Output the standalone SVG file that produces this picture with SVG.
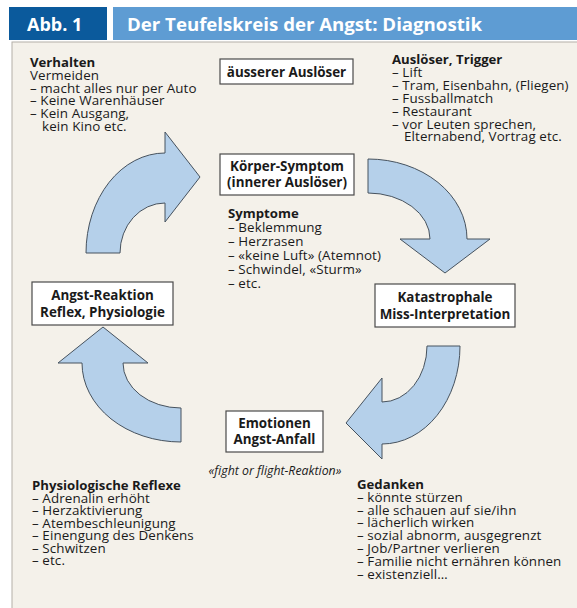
<svg xmlns="http://www.w3.org/2000/svg" width="577" height="608" viewBox="0 0 577 608">
<style>
text{font-family:"Open Sans","Liberation Sans",sans-serif;fill:#1a1a1a;font-size:13.4px;letter-spacing:0.1px}
.b{font-weight:bold;font-size:13.2px;letter-spacing:0}
.c{text-anchor:middle}
.bx{font-weight:bold;font-size:13.4px;letter-spacing:0;text-anchor:middle}
.box{fill:#ffffff;stroke:#4a4a4a;stroke-width:1.2}
.arr{fill:#b5d0ea;stroke:#46525e;stroke-width:1}
.hd{fill:#ffffff;font-weight:bold;font-size:18px;letter-spacing:0}
</style>
<rect x="0" y="0" width="577" height="608" fill="#ffffff"/>
<rect x="12" y="42" width="570" height="570" fill="#f4f1ea" stroke="#b3afa8" stroke-width="1"/>
<g id="header">
<rect x="9" y="7" width="98" height="33" fill="#0b5a9c"/>
<rect x="113" y="7" width="470" height="33" fill="#5e9cd3"/>
<text class="hd" x="27" y="31">Abb. 1</text>
<text class="hd" x="127" y="31" textLength="355" lengthAdjust="spacingAndGlyphs">Der Teufelskreis der Angst: Diagnostik</text>
</g>
<g id="connectors">
<path class="arr" d="M86,253 A79,100 0 0 1 165,153 L165,132 L200,177 L165,222 L165,203 A45,50 0 0 0 120,253 Z"/>
<path class="arr" d="M368,159 A99,80 0 0 1 467,239 L490,239 L445,273 L400,239 L430,239 A62,46 0 0 0 368,193 Z"/>
<path class="arr" d="M460,346 A78,98 0 0 1 382,444 L382,459 L346,423 L382,378 L382,402 A45,56 0 0 0 427,346 Z"/>
<path class="arr" d="M181,442 A99,79 0 0 1 82,363 L58,363 L103,327 L148,363 L123,363 A58,45 0 0 0 181,408 Z"/>
</g>
<g id="node-aeusserer">
<rect class="box" x="220" y="59" width="133" height="25"/>
<text class="bx" x="286.5" y="76.5">äusserer Auslöser</text>
</g>
<g id="node-koerper">
<rect class="box" x="220" y="154" width="134" height="41"/>
<text class="bx" x="287" y="171">Körper-Symptom</text>
<text class="bx" x="287" y="187">(innerer Auslöser)</text>
</g>
<g id="node-katastrophale">
<rect class="box" x="375" y="284" width="140" height="43"/>
<text class="bx" x="445" y="302">Katastrophale</text>
<text class="bx" x="445" y="319">Miss-Interpretation</text>
</g>
<g id="node-emotionen">
<rect class="box" x="226" y="411" width="97" height="41"/>
<text class="bx" x="274.5" y="428">Emotionen</text>
<text class="bx" x="274.5" y="444">Angst-Anfall</text>
</g>
<g id="node-angstreaktion">
<rect class="box" x="32" y="282" width="141" height="43"/>
<text class="bx" x="102.5" y="300">Angst-Reaktion</text>
<text class="bx" x="102.5" y="317">Reflex, Physiologie</text>
</g>
<g id="text-verhalten">
<text class="b" x="30" y="67">Verhalten</text>
<text x="30" y="80">Vermeiden</text>
<text x="30" y="92.7">– macht alles nur per Auto</text>
<text x="30" y="105.4">– Keine Warenhäuser</text>
<text x="30" y="118">– Kein Ausgang,</text>
<text x="42" y="130.7">kein Kino etc.</text>
</g>
<g id="text-trigger">
<text class="b" x="392" y="64">Auslöser, Trigger</text>
<text x="392" y="77">– Lift</text>
<text x="392" y="90">– Tram, Eisenbahn, (Fliegen)</text>
<text x="392" y="103">– Fussballmatch</text>
<text x="392" y="116">– Restaurant</text>
<text x="392" y="128.7">– vor Leuten sprechen,</text>
<text x="404" y="141.4">Elternabend, Vortrag etc.</text>
</g>
<g id="text-symptome">
<text class="b" x="228" y="218">Symptome</text>
<text x="228" y="232">– Beklemmung</text>
<text x="228" y="246">– Herzrasen</text>
<text x="228" y="260">– «keine Luft» (Atemnot)</text>
<text x="228" y="274">– Schwindel, «Sturm»</text>
<text x="228" y="288">– etc.</text>
</g>
<text x="275" y="475" class="c" style="font-style:italic;font-size:12.3px;letter-spacing:0">«fight or flight-Reaktion»</text>
<g id="text-reflexe">
<text class="b" x="32" y="490">Physiologische Reflexe</text>
<text x="32" y="502.5">– Adrenalin erhöht</text>
<text x="32" y="515">– Herzaktivierung</text>
<text x="32" y="527.5">– Atembeschleunigung</text>
<text x="32" y="540">– Einengung des Denkens</text>
<text x="32" y="552.5">– Schwitzen</text>
<text x="32" y="565">– etc.</text>
</g>
<g id="text-gedanken">
<text class="b" x="357" y="489">Gedanken</text>
<text x="357" y="501.8">– könnte stürzen</text>
<text x="357" y="514.6">– alle schauen auf sie/ihn</text>
<text x="357" y="527.4">– lächerlich wirken</text>
<text x="357" y="540.2">– sozial abnorm, ausgegrenzt</text>
<text x="357" y="553">– Job/Partner verlieren</text>
<text x="357" y="565.8">– Familie nicht ernähren können</text>
<text x="357" y="578.6">– existenziell…</text>
</g>
</svg>
